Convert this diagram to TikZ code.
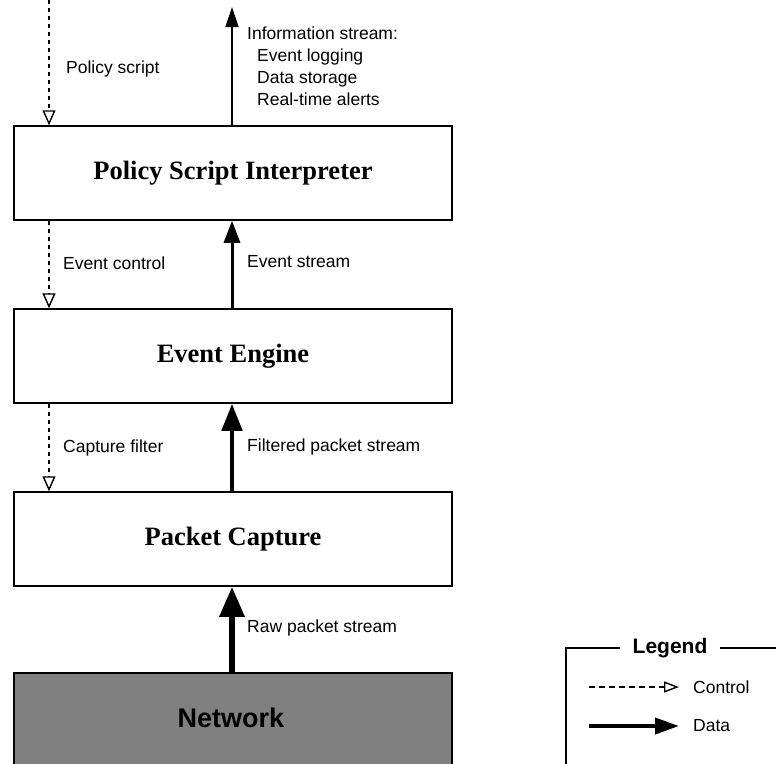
\documentclass[tikz,border=0pt]{standalone}
\usepackage{fontspec}
\setmainfont{Liberation Serif}
\setsansfont{Liberation Sans}
\usetikzlibrary{arrows.meta}

\tikzset{
  layer/.style={draw, line width=1.5pt, minimum width=438pt, minimum height=94pt,
    font=\fontsize{26.5}{30}\selectfont\bfseries, inner sep=0pt},
  netbox/.style={layer, fill=black!50},
  lbl/.style={anchor=west, inner sep=0pt, font=\fontsize{17.5}{22}\selectfont\sffamily},
  ctrl/.style={line width=1.4pt, dash pattern=on 4pt off 4pt,
    -{Triangle[open, length=15pt, width=13pt, line width=1.4pt]}},
  info/.style={line width=1.4pt, -{Triangle[length=20pt, width=13pt]}},
  ev/.style={line width=3pt, -{Triangle[length=22pt, width=16pt]}},
  filt/.style={line width=4.5pt, -{Triangle[length=27pt, width=20pt]}},
  raw/.style={line width=6pt, -{Triangle[length=30pt, width=24pt]}},
  legtxt/.style={anchor=west, inner sep=0pt, font=\fontsize{17.5}{22}\selectfont\sffamily}
}

\begin{document}
\begin{tikzpicture}[x=1pt, y=-1pt]
\useasboundingbox (0,0) rectangle (776,763);
\clip (0,0) rectangle (776,763);

% protocol layers
\node[layer]  (psi) at (233,173) {Policy Script Interpreter};
\node[layer]  (ee)  at (233,356) {Event Engine};
\node[layer]  (pc)  at (233,539) {Packet Capture};
\node[netbox, minimum height=110pt, anchor=north] (net) at (233,672) {};
\node[font=\fontsize{27}{30}\selectfont\sffamily\bfseries, inner sep=0pt] (nettxt) at (231,718) {Network};

% columns for control and data flows
\coordinate (cx) at (49,0);
\coordinate (dx) at (232,0);
\coordinate (out) at (232,7);

% control flows (downward)
\draw[ctrl] (cx) -- (psi.north -| cx);
\draw[ctrl] (psi.south -| cx) -- (ee.north -| cx);
\draw[ctrl] (ee.south -| cx) -- (pc.north -| cx);

% data flows (upward)
\draw[info] (psi.north -| dx) -- (out);
\draw[ev]   (ee.north -| dx) -- (psi.south -| dx);
\draw[filt] (pc.north -| dx) -- (ee.south -| dx);
\draw[raw]  (net.north -| dx) -- (pc.south -| dx);

% flow labels
\node[lbl] (l1) at (66,69) {Policy script};
\node[lbl, align=left, anchor=north west] (l2) at (247,27)
  {Information stream:\\\hspace*{10pt}Event logging\\\hspace*{10pt}Data storage\\\hspace*{10pt}Real-time alerts};
\node[lbl] (l3) at (63,263) {Event control};
\node[lbl] (l4) at (247,262) {Event stream};
\node[lbl] (l5) at (63,448) {Capture filter};
\node[lbl] (l6) at (247,447) {Filtered packet stream};
\node[lbl] (l7) at (247,628) {Raw packet stream};

% legend
\draw[line width=1.5pt] (566,800) -- (566,648) -- (800,648);
\node[fill=white, inner xsep=13pt, inner ysep=2pt, font=\fontsize{21}{24}\selectfont\sffamily\bfseries] (leg) at (670,648) {Legend};
\coordinate (c0) at (589,687);
\coordinate (c1) at (679,687);
\coordinate (d0) at (589,726);
\coordinate (d1) at (679,726);
\draw[line width=1.4pt, dash pattern=on 6pt off 4pt, -{Triangle[open, length=15pt, width=11pt, line width=1.4pt]}] (c0) -- (c1);
\draw[line width=4pt, -{Triangle[length=24pt, width=16pt]}] (d0) -- (d1);
\node[legtxt] (lc) at (693,687) {Control};
\node[legtxt] (ld) at (693,726) {Data};
\end{tikzpicture}
\end{document}
